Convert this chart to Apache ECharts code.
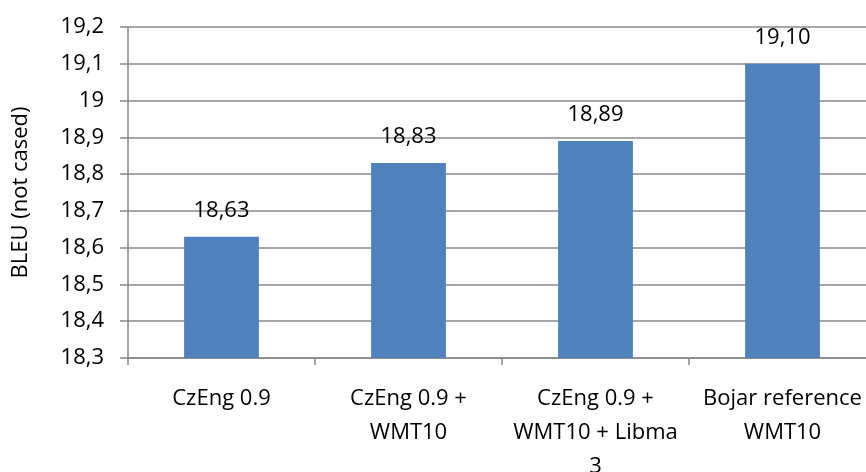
<!DOCTYPE html>
<html>
<head>
<meta charset="utf-8">
<script src="https://cdn.jsdelivr.net/npm/echarts@6/dist/echarts.min.js"></script>
<style>
  html, body { margin: 0; padding: 0; background: #fff; }
  #chart { width: 866px; height: 472px; }
</style>
</head>
<body>
<div id="chart"></div>
<script>
const categories = [
  "CzEng 0.9",
  "CzEng 0.9 +\nWMT10",
  "CzEng 0.9 +\nWMT10 + Libma\n3",
  "Bojar reference\nWMT10"
];
const bleu = [18.63, 18.83, 18.89, 19.10];
const yMin = 18.3, yMax = 19.2, yStep = 0.1;

const fontFamily = "'Open Sans', 'Liberation Sans', sans-serif";
const comma = (s) => String(s).replace(".", ",");

const chart = echarts.init(document.getElementById("chart"));
const option = {
  animation: false,
  grid: {
    left: 128,
    right: -10,
    top: 27,
    bottom: 114,
    containLabel: false,
    outerBoundsMode: "none"
  },
  xAxis: {
    type: "category",
    data: categories,
    axisLine: { lineStyle: { color: "#888", width: 1.5 } },
    axisTick: { show: true, length: 7, lineStyle: { color: "#888", width: 1.5 } },
    axisLabel: {
      color: "#000",
      fontSize: 22,
      fontFamily: fontFamily,
      lineHeight: 34,
      margin: 24,
      interval: 0
    }
  },
  yAxis: {
    type: "value",
    min: yMin,
    max: yMax,
    interval: yStep,
    name: "BLEU (not cased)",
    nameLocation: "middle",
    nameGap: 96,
    nameRotate: 90,
    nameTextStyle: { color: "#000", fontSize: 22, fontFamily: fontFamily },
    axisLine: { show: true, lineStyle: { color: "#888", width: 1.5 } },
    axisTick: { show: true, length: 8, lineStyle: { color: "#888", width: 1.5 } },
    splitLine: { lineStyle: { color: "#888", width: 1.5 } },
    axisLabel: {
      color: "#000",
      fontSize: 22,
      fontFamily: fontFamily,
      margin: 24,
      formatter: (v) => comma(Number(v.toFixed(1)))
    }
  },
  series: [{
    type: "bar",
    data: bleu,
    barWidth: "40%",
    itemStyle: { color: "#4F81BD" },
    label: {
      show: true,
      position: "top",
      distance: 15,
      color: "#000",
      fontSize: 22,
      fontFamily: fontFamily,
      formatter: (p) => comma(p.value.toFixed(2))
    }
  }]
};
chart.setOption(option);
</script>
</body>
</html>
